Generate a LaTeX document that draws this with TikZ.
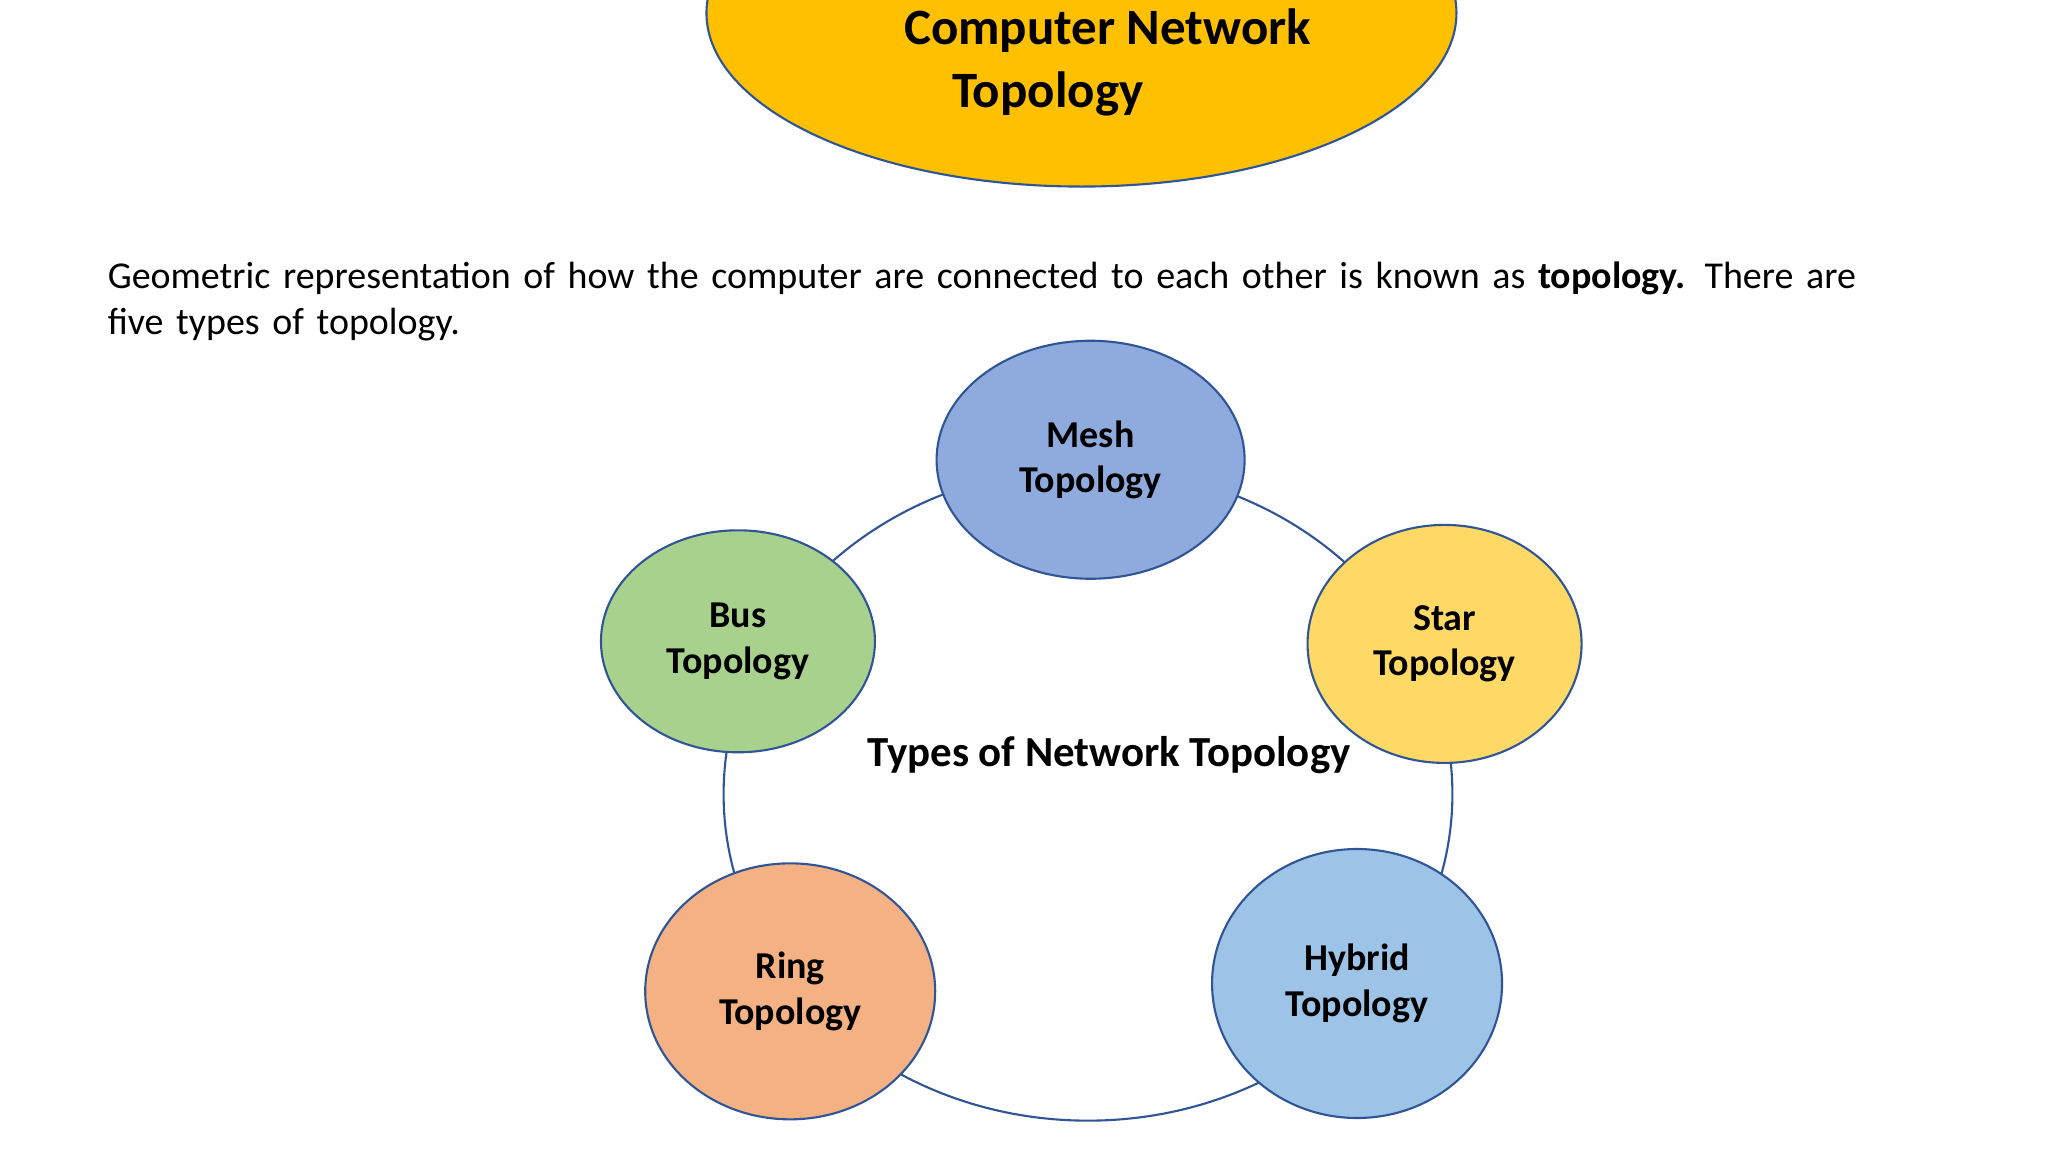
\documentclass[tikz,border=0pt]{standalone}
\usepackage{fontspec}
\setmainfont{Carlito}
\usetikzlibrary{shapes.geometric}
\definecolor{edgeblue}{HTML}{2F5597}
\definecolor{titlegold}{HTML}{FFC000}
\definecolor{meshblue}{HTML}{8FAADC}
\definecolor{staryellow}{HTML}{FFD966}
\definecolor{hybridblue}{HTML}{9DC3E6}
\definecolor{ringorange}{HTML}{F4B183}
\definecolor{busgreen}{HTML}{A9D18E}

\begin{document}
\begin{tikzpicture}[
        x=0.01306cm, y=-0.01306cm,
        topo/.style={ellipse, draw=edgeblue, line width=0.6pt, align=center,
                     font=\fontsize{10.8}{13}\selectfont\bfseries, inner sep=0pt},
    ]
    \useasboundingbox (0,0) rectangle (1568,882);

    \node[topo, fill=titlegold, minimum width=7.5cm, minimum height=3.47cm] (title) at (828,10) {};
    \node[font=\fontsize{14.5}{17.8}\selectfont\bfseries, align=center] (titletext) at (848,48)
        {Computer Network\\\hspace*{-1.2cm}Topology};

    \node[anchor=north west, align=left, text width=17.6cm, inner sep=0pt,
          font=\fontsize{10.8}{13.1}\selectfont] (intro) at (82,200)
        {Geometric representation of how the computer are connected to each other is known as \textbf{topology.} There are five types of topology.};

    % ring joining the five types
    \draw[edgeblue, line width=0.6pt] (833,608) ellipse [x radius=279, y radius=250];
    \node[font=\fontsize{12.2}{15}\selectfont\bfseries] (types) at (849,578) {Types of Network Topology};

    \node[topo, fill=meshblue, minimum width=3.08cm, minimum height=2.38cm] (mesh) at (835,352) {Mesh\\Topology};
    \node[topo, fill=staryellow, minimum width=2.74cm, minimum height=2.38cm] (star) at (1106,493) {Star\\Topology};
    \node[topo, fill=hybridblue, minimum width=2.9cm, minimum height=2.69cm] (hybrid) at (1039,753) {Hybrid\\Topology};
    \node[topo, fill=ringorange, minimum width=2.9cm, minimum height=2.56cm] (ring) at (605,759) {Ring\\Topology};
    \node[topo, fill=busgreen, minimum width=2.74cm, minimum height=2.22cm] (bus) at (565,491) {Bus\\Topology};
\end{tikzpicture}
\end{document}
